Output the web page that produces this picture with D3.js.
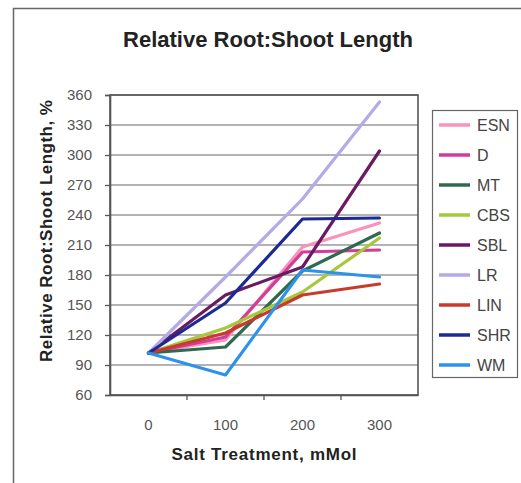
<!DOCTYPE html>
<html>
<head>
<meta charset="utf-8">
<script src="https://cdn.jsdelivr.net/npm/d3@7"></script>
<style>
  html, body { margin: 0; padding: 0; background: #fff; }
  svg { display: block; }
  text { font-family: "Liberation Sans", Arial, sans-serif; }
</style>
</head>
<body>
<svg id="chart" width="521" height="483"></svg>
<script>
// Salt treatment levels (mMol) along the category axis
const treatments = ["0", "100", "200", "300"];

// Relative root:shoot length (%) per cultivar
const ESN = [102, 115, 208, 232];
const D   = [102, 118, 203, 205];
const MT  = [102, 108, 184, 222];
const CBS = [102, 127, 163, 217];
const SBL = [102, 160, 188, 304];
const LR  = [102, 178, 256, 353];
const LIN = [102, 122, 160, 171];
const SHR = [102, 152, 236, 237];
const WM  = [102, 80, 185, 178];

const seriesNames = ["ESN", "D", "MT", "CBS", "SBL", "LR", "LIN", "SHR", "WM"];
const seriesValues = [ESN, D, MT, CBS, SBL, LR, LIN, SHR, WM];
const seriesColors = ["#f893bb", "#d23d98", "#2f6a4f", "#a6c83a", "#6a1a62",
                      "#b3aae8", "#c83a2c", "#1c2a96", "#2f92ea"];

const yTicks = [60, 90, 120, 150, 180, 210, 240, 270, 300, 330, 360];

const series = seriesNames.map((name, i) => ({
  name, values: seriesValues[i], color: seriesColors[i]
}));

const svg = d3.select("#chart");
const FONT = "'Liberation Sans', Arial, sans-serif";

// outer chart frame
svg.append("rect")
  .attr("x", 13.5).attr("y", 8.5)
  .attr("width", 600).attr("height", 600)
  .attr("fill", "none").attr("stroke", "#666").attr("stroke-width", 1.5);

const plot = { left: 110, right: 418, top: 95, bottom: 395 };

const x = d3.scaleBand().domain(treatments).range([plot.left, plot.right]).padding(0);
const y = d3.scaleLinear().domain([60, 360]).range([plot.bottom, plot.top]);

// horizontal gridlines
svg.append("g")
  .selectAll("line")
  .data(yTicks)
  .join("line")
  .attr("x1", plot.left).attr("x2", plot.right)
  .attr("y1", d => y(d)).attr("y2", d => y(d))
  .attr("stroke", "#9a9a9a").attr("stroke-width", 1.3);

// plot area border
svg.append("rect")
  .attr("x", plot.left).attr("y", plot.top)
  .attr("width", plot.right - plot.left).attr("height", plot.bottom - plot.top)
  .attr("fill", "none").attr("stroke", "#555").attr("stroke-width", 1.6);

// y axis
const yAxis = svg.append("g")
  .attr("transform", `translate(${plot.left},0)`)
  .call(d3.axisLeft(y).tickValues(yTicks).tickSize(5).tickPadding(13));
yAxis.select(".domain").attr("stroke", "#555").attr("stroke-width", 1.6);
yAxis.selectAll(".tick line").attr("stroke", "#555").attr("stroke-width", 1.3);
yAxis.selectAll(".tick text")
  .attr("fill", "#555").style("font-size", "15px")
  .style("font-family", FONT);

// x axis: ticks sit on category boundaries
const xAxis = svg.append("g")
  .attr("transform", `translate(0,${plot.bottom})`)
  .call(d3.axisBottom(x).tickSize(0).tickPadding(24));
xAxis.select(".domain").attr("stroke", "#555").attr("stroke-width", 1.6);
xAxis.selectAll(".tick text")
  .attr("fill", "#555").style("font-size", "15px")
  .style("font-family", FONT);
xAxis.selectAll(".boundary")
  .data(treatments.slice(1))
  .join("line")
  .attr("class", "boundary")
  .attr("x1", d => x(d)).attr("x2", d => x(d))
  .attr("y1", 0).attr("y2", 5)
  .attr("stroke", "#555").attr("stroke-width", 1.3);

// series lines
const line = d3.line()
  .x((d, i) => x(treatments[i]) + x.bandwidth() / 2)
  .y(d => y(d));

svg.append("g")
  .selectAll("path")
  .data(series)
  .join("path")
  .attr("d", d => line(d.values))
  .attr("fill", "none")
  .attr("stroke", d => d.color)
  .attr("stroke-width", 3.2)
  .attr("stroke-linejoin", "round")
  .attr("stroke-linecap", "round");

// title
svg.append("text")
  .attr("x", 268).attr("y", 47)
  .attr("text-anchor", "middle")
  .attr("textLength", 290)
  .style("font-size", "22px").style("font-weight", "bold")
  .attr("fill", "#222")
  .text("Relative Root:Shoot Length");

// axis titles
svg.append("text")
  .attr("x", 264).attr("y", 460)
  .attr("text-anchor", "middle")
  .attr("textLength", 185)
  .style("font-size", "17px").style("font-weight", "bold")
  .attr("fill", "#222")
  .text("Salt Treatment, mMol");

svg.append("text")
  .attr("transform", "translate(52,231) rotate(-90)")
  .attr("text-anchor", "middle")
  .attr("textLength", 262)
  .style("font-size", "17px").style("font-weight", "bold")
  .attr("fill", "#222")
  .text("Relative Root:Shoot Length, %");

// legend
const legend = svg.append("g");
legend.append("rect")
  .attr("x", 432.5).attr("y", 110.5)
  .attr("width", 85).attr("height", 267)
  .attr("fill", "#fff").attr("stroke", "#666").attr("stroke-width", 1.2);

const legendY = d3.scalePoint().domain(seriesNames).range([125, 365]);

const items = legend.selectAll("g.item")
  .data(series)
  .join("g")
  .attr("class", "item")
  .attr("transform", d => `translate(0,${legendY(d.name)})`);
items.append("line")
  .attr("x1", 439).attr("x2", 470)
  .attr("y1", 0).attr("y2", 0)
  .attr("stroke", d => d.color).attr("stroke-width", 3.5);
items.append("text")
  .attr("x", 477).attr("y", 6)
  .style("font-size", "16px")
  .attr("fill", "#444")
  .text(d => d.name);
</script>
</body>
</html>
